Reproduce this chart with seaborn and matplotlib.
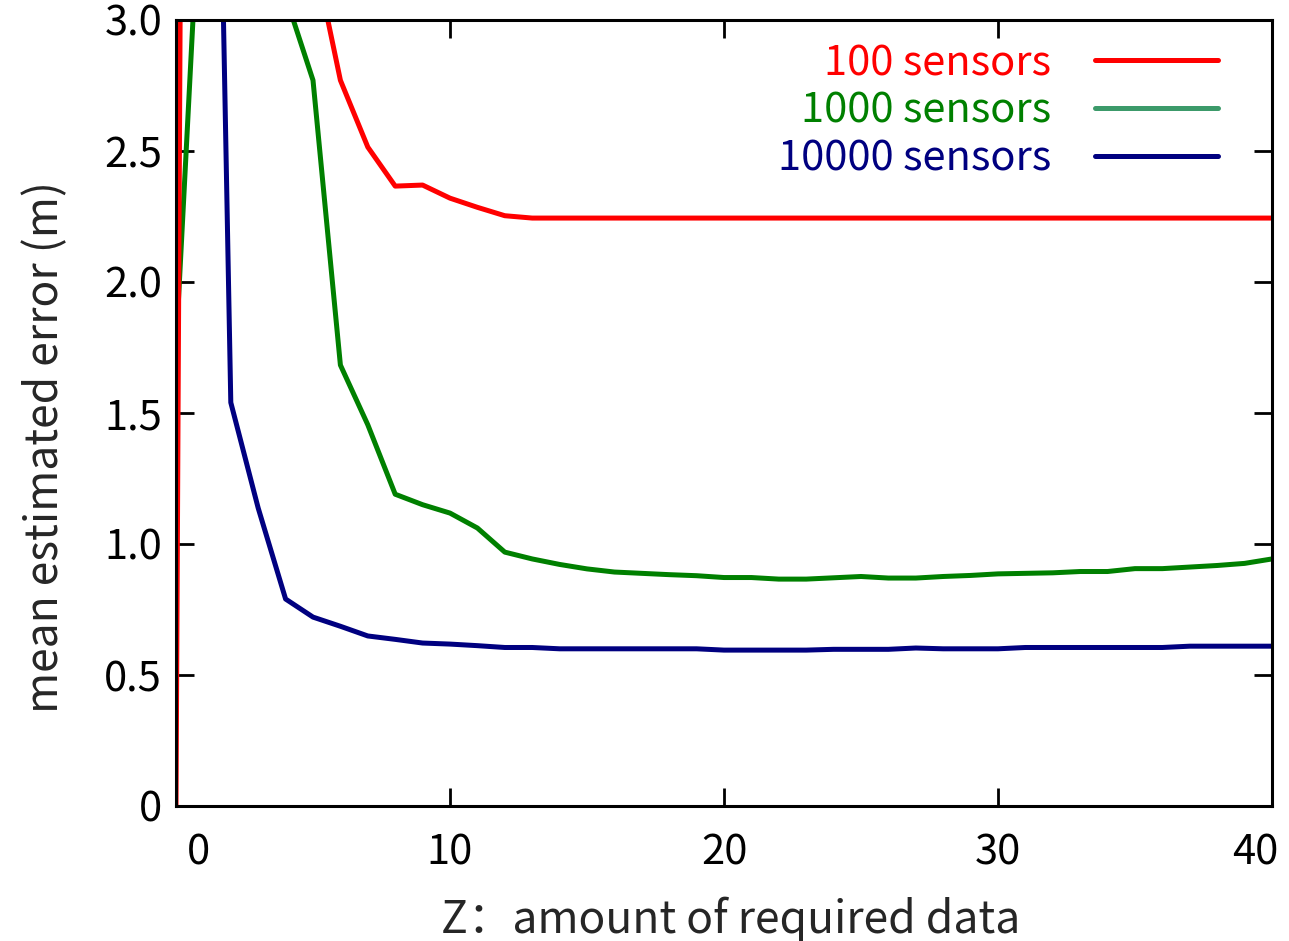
import numpy as np
import pandas as pd
import matplotlib
matplotlib.use("Agg")
import matplotlib.pyplot as plt
import matplotlib.transforms as mtrans
from matplotlib.lines import Line2D
import seaborn as sns

# ---------------- data ----------------
z = list(range(0, 41))
red_100 = [0.0, 20.0, 9.0, 6.0, 4.5, 3.27, 2.77, 2.515, 2.366, 2.37, 2.32,
           2.285, 2.253, 2.244, 2.244, 2.244, 2.244, 2.244, 2.244, 2.244, 2.244,
           2.244, 2.244, 2.244, 2.244, 2.244, 2.244, 2.244, 2.244, 2.244, 2.244,
           2.244, 2.244, 2.244, 2.244, 2.244, 2.244, 2.244, 2.244, 2.244, 2.244]
green_1000 = [1.75, 3.77, 4.6, 4.0, 3.09, 2.77, 1.683, 1.455, 1.19, 1.15, 1.118,
              1.061, 0.969, 0.943, 0.922, 0.905, 0.893, 0.888, 0.883, 0.879, 0.872,
              0.872, 0.866, 0.866, 0.871, 0.876, 0.870, 0.870, 0.876, 0.880, 0.886,
              0.888, 0.890, 0.895, 0.895, 0.906, 0.906, 0.912, 0.918, 0.926, 0.943]
blue_10000 = [np.nan, 7.0, 1.54, 1.137, 0.79, 0.721, 0.686, 0.649, 0.636, 0.622, 0.618,
              0.612, 0.605, 0.605, 0.600, 0.600, 0.600, 0.600, 0.600, 0.600, 0.595,
              0.595, 0.595, 0.595, 0.598, 0.598, 0.598, 0.603, 0.600, 0.600, 0.600,
              0.605, 0.605, 0.605, 0.605, 0.605, 0.605, 0.610, 0.610, 0.610, 0.610]
series_names = ["100 sensors", "1000 sensors", "10000 sensors"]
series_colors = ["#ff0000", "#008000", "#000080"]
legend_line_colors = ["#ff0000", "#3c9a6a", "#000080"]
x_ticks = [0, 10, 20, 30, 40]
y_ticks = [0, 0.5, 1.0, 1.5, 2.0, 2.5, 3.0]
y_tick_labels = ["0", "0.5", "1.0", "1.5", "2.0", "2.5", "3.0"]
x_label = "Z：amount of required data"
y_label = "mean estimated error (m)"

df = pd.concat([
    pd.DataFrame({"z": z, "err": vals, "series": name})
    for name, vals in zip(series_names, [red_100, green_1000, blue_10000])
], ignore_index=True)

# ---------------- style ----------------
sns.set_style("ticks")
plt.rcParams["font.family"] = ["Noto Sans CJK SC", "DejaVu Sans"]
FS = 30
FS_LAB = 32

fig = plt.figure(figsize=(12.89, 9.41), dpi=100)
ax = fig.add_axes([176/1289, 1-806/941, (1272-176)/1289, (806-20)/941])

for name, col in list(zip(series_names, series_colors))[::-1]:
    sub = df[df["series"] == name].dropna()
    sns.lineplot(data=sub, x="z", y="err", color=col, lw=3.6, ax=ax,
                 sort=False, legend=False, estimator=None)

ax.set_xlim(0, 40)
ax.set_ylim(0, 3.0)
ax.set_xticks(x_ticks)
ax.set_xticklabels([str(t) for t in x_ticks])
ax.set_yticks(y_ticks)
ax.set_yticklabels(y_tick_labels)
ax.tick_params(direction="in", length=13, width=2, labelsize=FS,
               top=True, right=True, colors="black")
ax.tick_params(axis="x", pad=19)
ax.tick_params(axis="y", pad=10)

xl = ax.get_xticklabels()
xl[0].set_transform(xl[0].get_transform() + mtrans.ScaledTranslation(22/100, 0, fig.dpi_scale_trans))
xl[-1].set_transform(xl[-1].get_transform() + mtrans.ScaledTranslation(-17/100, 0, fig.dpi_scale_trans))

for sp in ax.spines.values():
    sp.set_linewidth(2.2)
    sp.set_color("black")

ax.set_xlabel(x_label, fontsize=FS_LAB)
ax.set_ylabel(y_label, fontsize=FS_LAB)
ax.xaxis.set_label_coords((731-176)/1096, -0.115)
ax.xaxis.label.set_va("top")
ax.yaxis.set_label_coords(-(176-45)/1096, 0.457)
ax.yaxis.label.set_va("center")

handles = [Line2D([], [], color=c, lw=3.6) for c in legend_line_colors]
leg = ax.legend(handles, series_names, loc="upper right",
                bbox_to_anchor=(1218/1289, 1-43/941), bbox_transform=fig.transFigure,
                frameon=False, markerfirst=False, fontsize=FS,
                handlelength=2.95, handletextpad=1.05, labelspacing=0.16,
                borderpad=0, borderaxespad=0)
for t, c in zip(leg.get_texts(), series_colors):
    t.set_color(c)

fig.savefig("out.png", dpi=100)
